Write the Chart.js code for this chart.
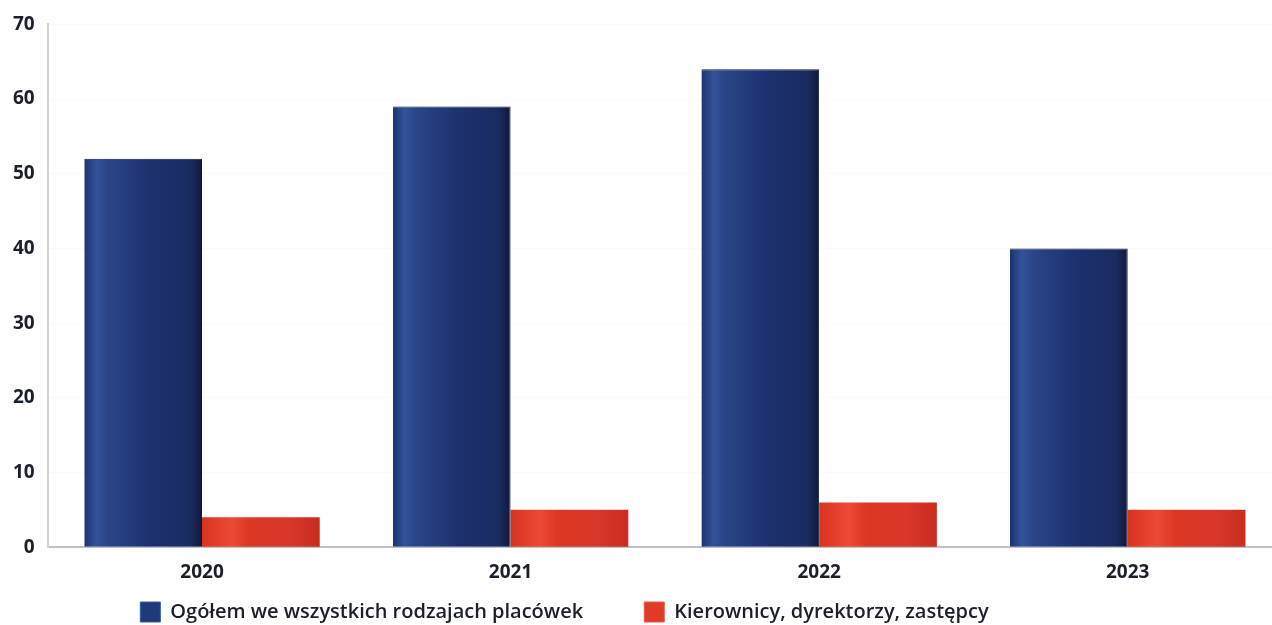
<!DOCTYPE html>
<html>
<head>
<meta charset="utf-8">
<script src="https://cdn.jsdelivr.net/npm/chart.js@4/dist/chart.umd.min.js"></script>
<style>
  html, body { margin: 0; padding: 0; background: #fff; }
  #wrap { width: 1272px; height: 625px; position: relative; overflow: hidden; }
  #inner { width: 1282px; height: 625px; position: relative; }
</style>
</head>
<body>
<div id="wrap"><div id="inner"><canvas id="wykres"></canvas></div></div>
<script>
const lata = ['2020', '2021', '2022', '2023'];
const ogolem = [52, 59, 64, 40];
const kierownicy = [4, 5, 6, 5];
const yTicks = [0, 10, 20, 30, 40, 50, 60, 70];

const CAT_PCT = 0.763;

// poziomy gradient na każdym słupku (efekt walca)
function gradient(ctx, stops, side) {
    const chart = ctx.chart;
    const x = chart.scales.x;
    if (!x || ctx.dataIndex === undefined || !chart.chartArea) return stops[2][1];
    const center = x.getPixelForValue(ctx.dataIndex);
    const half = (x.width / lata.length) * CAT_PCT / 2;
    const x0 = side === 0 ? center - half : center;
    const g = chart.ctx.createLinearGradient(x0, 0, x0 + half, 0);
    stops.forEach(s => g.addColorStop(s[0], s[1]));
    return g;
}

const blueStops = [[0, '#1d336f'], [0.1, '#33529a'], [0.2, '#2a4587'], [0.55, '#1d3170'], [0.9, '#1a2b60'], [1, '#10193a']];
const redStops = [[0, '#d9321f'], [0.25, '#ec4a36'], [0.4, '#dc3724'], [0.75, '#d8372a'], [1, '#c92c1f']];

// legenda w oryginale jest przesunięta w lewo i nieco niżej
const shiftLegend = {
    id: 'shiftLegend',
    afterLayout(chart) {
        const lg = chart.legend;
        if (!lg) return;
        lg.right -= 153;
        lg.top += 7;
        lg.bottom += 7;
    }
};

new Chart(document.getElementById('wykres'), {
    type: 'bar',
    data: {
        labels: lata,
        datasets: [{
            label: 'Ogółem we wszystkich rodzajach placówek',
            data: ogolem,
            backgroundColor: ctx => gradient(ctx, blueStops, 0),
            borderColor: '#0e1836',
            borderWidth: { top: 1, left: 0, right: 1, bottom: 0 },
            borderSkipped: 'bottom'
        }, {
            label: 'Kierownicy, dyrektorzy, zastępcy',
            data: kierownicy,
            backgroundColor: ctx => gradient(ctx, redStops, 1),
            borderWidth: 0
        }]
    },
    plugins: [shiftLegend],
    options: {
        responsive: true,
        maintainAspectRatio: false,
        animation: false,
        layout: { padding: { top: 15, right: 0, left: 0, bottom: 0 } },
        datasets: {
            bar: { categoryPercentage: CAT_PCT, barPercentage: 1 }
        },
        scales: {
            x: {
                grid: { display: false, drawTicks: false },
                border: { color: '#bfc1c8', width: 2 },
                afterFit: s => { s.height -= 7; },
                ticks: {
                    color: '#1b1f2b',
                    padding: 14,
                    font: { family: 'Open Sans', size: 19, weight: '700' }
                }
            },
            y: {
                min: 0,
                max: 70,
                afterBuildTicks: axis => { axis.ticks = yTicks.map(v => ({ value: v })); },
                grid: { color: 'rgba(230,230,230,0.2)', drawTicks: false },
                border: { color: '#d2d3d7', width: 2 },
                ticks: {
                    color: '#1b1f2b',
                    padding: 13,
                    font: { family: 'Open Sans', size: 19, weight: '700' }
                }
            }
        },
        plugins: {
            legend: {
                position: 'bottom',
                labels: {
                    color: '#1b1f2b',
                    boxWidth: 20,
                    boxHeight: 20,
                    padding: 4,
                    font: { family: 'Open Sans', size: 20, weight: '600' },
                    generateLabels: chart => chart.data.datasets.map((ds, i) => ({
                        text: i === 0 ? ds.label + '           ' : ds.label,
                        fillStyle: i === 0 ? '#1f3a7a' : '#e03a28',
                        strokeStyle: i === 0 ? '#3a5a9a' : '#e85a48',
                        lineWidth: 1,
                        datasetIndex: i,
                        fontColor: '#1b1f2b'
                    }))
                }
            },
            tooltip: { enabled: false }
        }
    }
});
</script>
</body>
</html>
